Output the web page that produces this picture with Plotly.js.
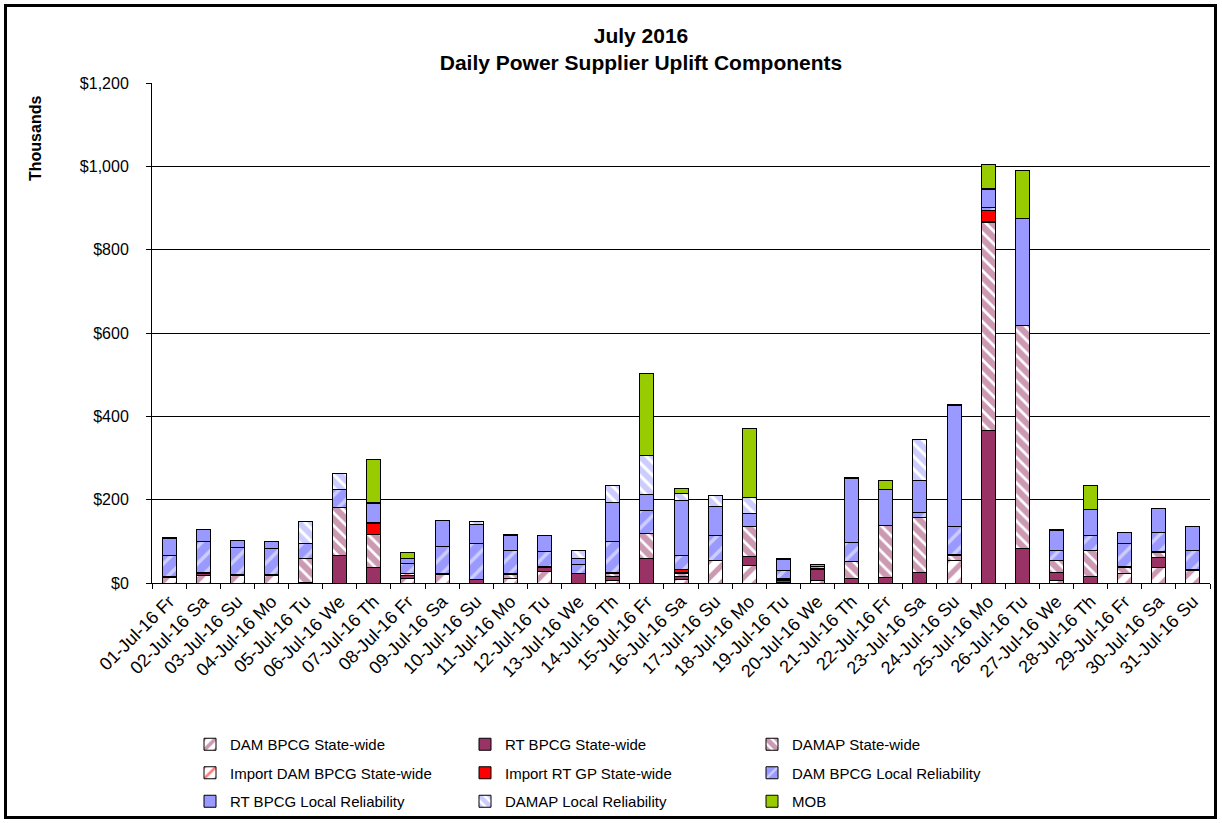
<!DOCTYPE html>
<html>
<head>
<meta charset="utf-8">
<script src="https://cdn.plot.ly/plotly-3.0.1.min.js"></script>
<style>
  html, body { margin: 0; padding: 0; background: #fff; }
  #wrap { position: relative; width: 1222px; height: 823px; }
  #chart { position: absolute; left: 0; top: 0; width: 1222px; height: 823px; }
  #frame { position: absolute; left: 4px; top: 4px; width: 1213px; height: 815px; border: 3px solid #000; box-sizing: border-box; pointer-events: none; }
</style>
</head>
<body>
<div id="wrap"><div id="chart"></div><div id="frame"></div></div>
<script>
const categories = ["01-Jul-16 Fr","02-Jul-16 Sa","03-Jul-16 Su","04-Jul-16 Mo","05-Jul-16 Tu","06-Jul-16 We","07-Jul-16 Th","08-Jul-16 Fr","09-Jul-16 Sa","10-Jul-16 Su","11-Jul-16 Mo","12-Jul-16 Tu","13-Jul-16 We","14-Jul-16 Th","15-Jul-16 Fr","16-Jul-16 Sa","17-Jul-16 Su","18-Jul-16 Mo","19-Jul-16 Tu","20-Jul-16 We","21-Jul-16 Th","22-Jul-16 Fr","23-Jul-16 Sa","24-Jul-16 Su","25-Jul-16 Mo","26-Jul-16 Tu","27-Jul-16 We","28-Jul-16 Th","29-Jul-16 Fr","30-Jul-16 Sa","31-Jul-16 Su"];

// values in $ thousands
const damBpcgStatewide      = [14,18,18,18,0,0,0,10,21,0,12,27,0,6,0,8,55,42,2,5,0,0,0,55,0,0,5,0,22,37,30];
const rtBpcgStatewide       = [0,4,3,3,2,66,37,8,0,8,0,10,22,10,60,8,0,21,4,27,11,13,26,0,367,83,20,15,0,25,0];
const damapStatewide        = [0,3,0,0,58,116,80,0,0,0,8,0,0,6,59,6,0,72,2,0,40,126,132,12,498,536,28,64,15,12,0];
const importDamBpcgStatewide= [1,0,0,0,0,0,0,4,2,0,3,2,0,3,0,3,0,0,3,2,0,0,0,2,2,0,0,0,2,2,3];
const importRtGpStatewide   = [0,0,0,0,0,0,26,0,0,0,0,0,0,0,0,7,0,0,0,0,0,0,0,0,28,0,0,0,0,0,0];
const damBpcgLocal          = [52,75,64,62,35,42,2,24,64,86,55,37,23,74,54,33,60,0,20,5,46,0,11,66,6,0,24,34,57,46,46];
const rtBpcgLocal           = [40,28,17,17,0,0,46,14,64,46,36,37,13,94,39,134,68,32,26,5,154,86,78,290,44,256,49,64,25,56,56];
const damapLocal            = [2,0,0,0,52,38,2,0,0,7,2,0,19,42,93,16,26,38,2,0,3,0,98,3,2,0,2,0,0,0,0];
const mob                   = [0,0,0,0,0,0,103,13,0,0,0,0,0,0,197,11,0,166,0,0,0,22,0,0,58,116,0,58,0,0,0];

const seriesNames = ["DAM BPCG State-wide","RT BPCG State-wide","DAMAP State-wide","Import DAM BPCG State-wide","Import RT GP State-wide","DAM BPCG Local Reliability","RT BPCG Local Reliability","DAMAP Local Reliability","MOB"];
const yTickVals = [0,200,400,600,800,1000,1200];

const MAROON = "#993366", BLUE = "#9999FF", RED = "#FF0000", GREEN = "#99CC00";

const styles = [
  {color: "#fff", pattern: {shape: "/", fgcolor: MAROON, bgcolor: "#fff", size: 12, solidity: 0.45, fillmode: "overlay"}},
  {color: MAROON},
  {color: "#fff", pattern: {shape: "\\", fgcolor: MAROON, bgcolor: "#fff", size: 9, solidity: 0.7, fillmode: "overlay"}},
  {color: "#fff", pattern: {shape: "/", fgcolor: RED, bgcolor: "#fff", size: 12, solidity: 0.35, fillmode: "overlay"}},
  {color: RED},
  {color: BLUE, pattern: {shape: "/", fgcolor: "#fff", bgcolor: BLUE, size: 12, solidity: 0.3, fillmode: "overlay"}},
  {color: BLUE},
  {color: "#fff", pattern: {shape: "\\", fgcolor: BLUE, bgcolor: "#fff", size: 9, solidity: 0.65, fillmode: "overlay"}},
  {color: GREEN}
];
const legendOf = ["legend","legend2","legend3","legend","legend2","legend3","legend","legend2","legend3"];
const allSeries = [damBpcgStatewide, rtBpcgStatewide, damapStatewide, importDamBpcgStatewide, importRtGpStatewide, damBpcgLocal, rtBpcgLocal, damapLocal, mob];

const traces = allSeries.map((vals, i) => ({
  type: "bar",
  name: seriesNames[i],
  x: categories,
  y: vals,
  legend: legendOf[i],
  legendgroup: "g" + i,
  marker: Object.assign({line: {color: "#000", width: 1}}, styles[i]),
  hoverinfo: "x+y+name"
}));

const FAM = "'Liberation Sans', Arial, sans-serif";
const LEG_FONT = {family: FAM, size: 15, color: "#000"};
const legendBase = (xpx) => ({
  x: xpx / 1222, xref: "container", xanchor: "left",
  y: 1 - 728 / 823, yref: "container", yanchor: "top",
  orientation: "v", tracegroupgap: 6, font: LEG_FONT,
  bgcolor: "rgba(0,0,0,0)", borderwidth: 0, traceorder: "grouped"
});

const layout = {
  width: 1222, height: 823,
  margin: {l: 152, r: 12, t: 83, b: 240, autoexpand: false},
  paper_bgcolor: "#fff", plot_bgcolor: "#fff",
  barmode: "stack", bargap: 0.59,
  font: {family: FAM, color: "#000"},
  title: {
    text: "July 2016<br>Daily Power Supplier Uplift Components",
    font: {family: FAM, size: 21, weight: "bold", color: "#000"},
    x: 641 / 1222, xref: "container", xanchor: "center",
    y: 1 - 43 / 823, yref: "container", yanchor: "middle"
  },
  xaxis: {
    type: "category", tickangle: -45, tickson: "boundaries", ticks: "outside", ticklen: 5, tickcolor: "#000",
    showline: true, linecolor: "#000", linewidth: 1, showgrid: false,
    tickfont: {size: 18, family: FAM, color: "#000"}
  },
  yaxis: {
    range: [0, 1200], tickvals: yTickVals, ticktext: yTickVals.map(v => "$" + v.toLocaleString("en-US")),
    ticks: "outside", ticklen: 5, tickcolor: "#000", ticklabelstandoff: 14,
    showline: true, linecolor: "#000", linewidth: 1,
    showgrid: true, gridcolor: "#000", gridwidth: 1, zeroline: false,
    tickfont: {size: 16, family: FAM, color: "#000"}
  },
  annotations: [{
    text: "<b>Thousands</b>", textangle: -90, showarrow: false,
    xref: "paper", yref: "paper", x: (35 - 152) / 1058, y: (583 - 139) / 500,
    xanchor: "center", yanchor: "middle",
    font: {size: 16, family: FAM, color: "#000"}
  }],
  legend: legendBase(190),
  legend2: legendBase(465),
  legend3: legendBase(752),
  showlegend: true
};

Plotly.newPlot("chart", traces, layout, {displayModeBar: false, staticPlot: true});
</script>
</body>
</html>
